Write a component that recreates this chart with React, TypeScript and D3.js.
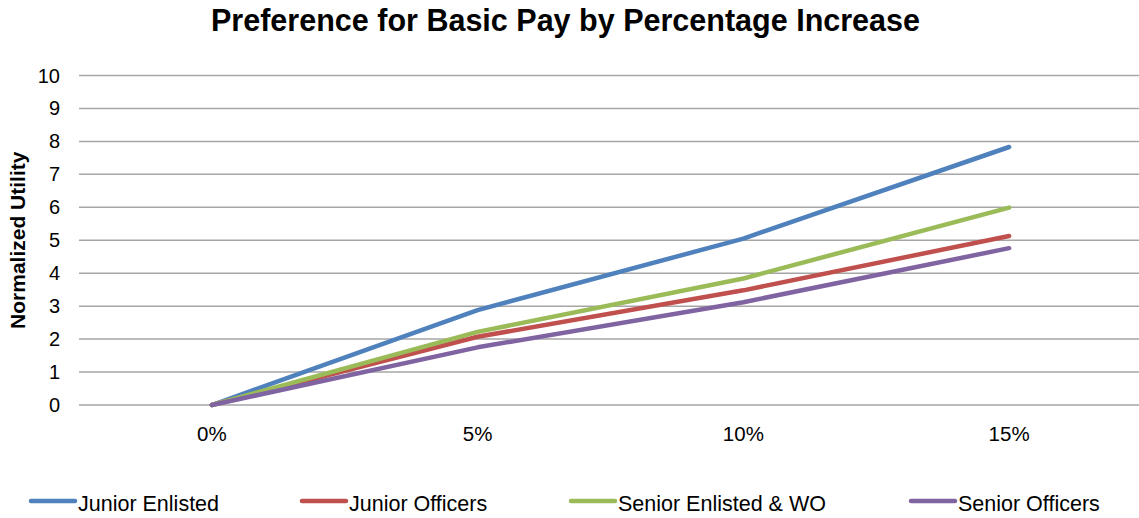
import React from "react";
import * as d3 from "d3";

const categories = ["0%", "5%", "10%", "15%"];
const juniorEnlisted = [0, 2.88, 5.05, 7.83];
const juniorOfficers = [0, 2.07, 3.48, 5.13];
const seniorEnlisted = [0, 2.22, 3.84, 5.99];
const seniorOfficers = [0, 1.75, 3.12, 4.76];
const yTicks = [0, 1, 2, 3, 4, 5, 6, 7, 8, 9, 10];

const seriesNames = ["Junior Enlisted", "Junior Officers", "Senior Enlisted & WO", "Senior Officers"];
const seriesValues = [juniorEnlisted, juniorOfficers, seniorEnlisted, seniorOfficers];
const colors = ["#4F81BD", "#C0504D", "#9BBB59", "#8064A2"];

export default function App() {
  const W = 1139, H = 518;
  const left = 79, right = 1142, top = 75.5, bottom = 405;
  const x = d3.scaleBand<string>().domain(categories).range([left, right]);
  const y = d3.scaleLinear().domain([0, 10]).range([bottom, top]);
  const line = d3.line<number>()
    .x((_, i) => (x(categories[i]) as number) + x.bandwidth() / 2)
    .y((d) => y(d));
  const font = "Arial, 'Liberation Sans', sans-serif";
  const legendX = [31, 302, 571, 911];
  return (
    <svg width={W} height={H} style={{ position: "absolute", left: 0, top: 0 }} fontFamily={font}>
      <rect width={W} height={H} fill="#fff" />
      <text x={211} y={31} fontSize={31} fontWeight="bold" textLength={709} lengthAdjust="spacingAndGlyphs">
        Preference for Basic Pay by Percentage Increase
      </text>
      {yTicks.map((t) => (
        <g key={t}>
          <line x1={left} x2={right} y1={y(t)} y2={y(t)} stroke="#a6a6a6" strokeWidth={1.5} />
          <text x={60} y={y(t) + 7} textAnchor="end" fontSize={20}>{t}</text>
        </g>
      ))}
      <text transform={`translate(25,${(top + bottom) / 2}) rotate(-90)`} textAnchor="middle" fontSize={21} fontWeight="bold">
        Normalized Utility
      </text>
      {categories.map((c) => (
        <text key={c} x={(x(c) as number) + x.bandwidth() / 2} y={441} textAnchor="middle" fontSize={20.5}>{c}</text>
      ))}
      {seriesValues.map((vals, i) => (
        <path key={i} d={line(vals) || ""} fill="none" stroke={colors[i]} strokeWidth={4.5} strokeLinecap="round" strokeLinejoin="round" />
      ))}
      {seriesNames.map((n, i) => (
        <g key={n}>
          <line x1={legendX[i]} x2={legendX[i] + 44} y1={501} y2={501} stroke={colors[i]} strokeWidth={4.5} strokeLinecap="round" />
          <text x={legendX[i] + 47} y={511} fontSize={21.5}>{n}</text>
        </g>
      ))}
    </svg>
  );
}
